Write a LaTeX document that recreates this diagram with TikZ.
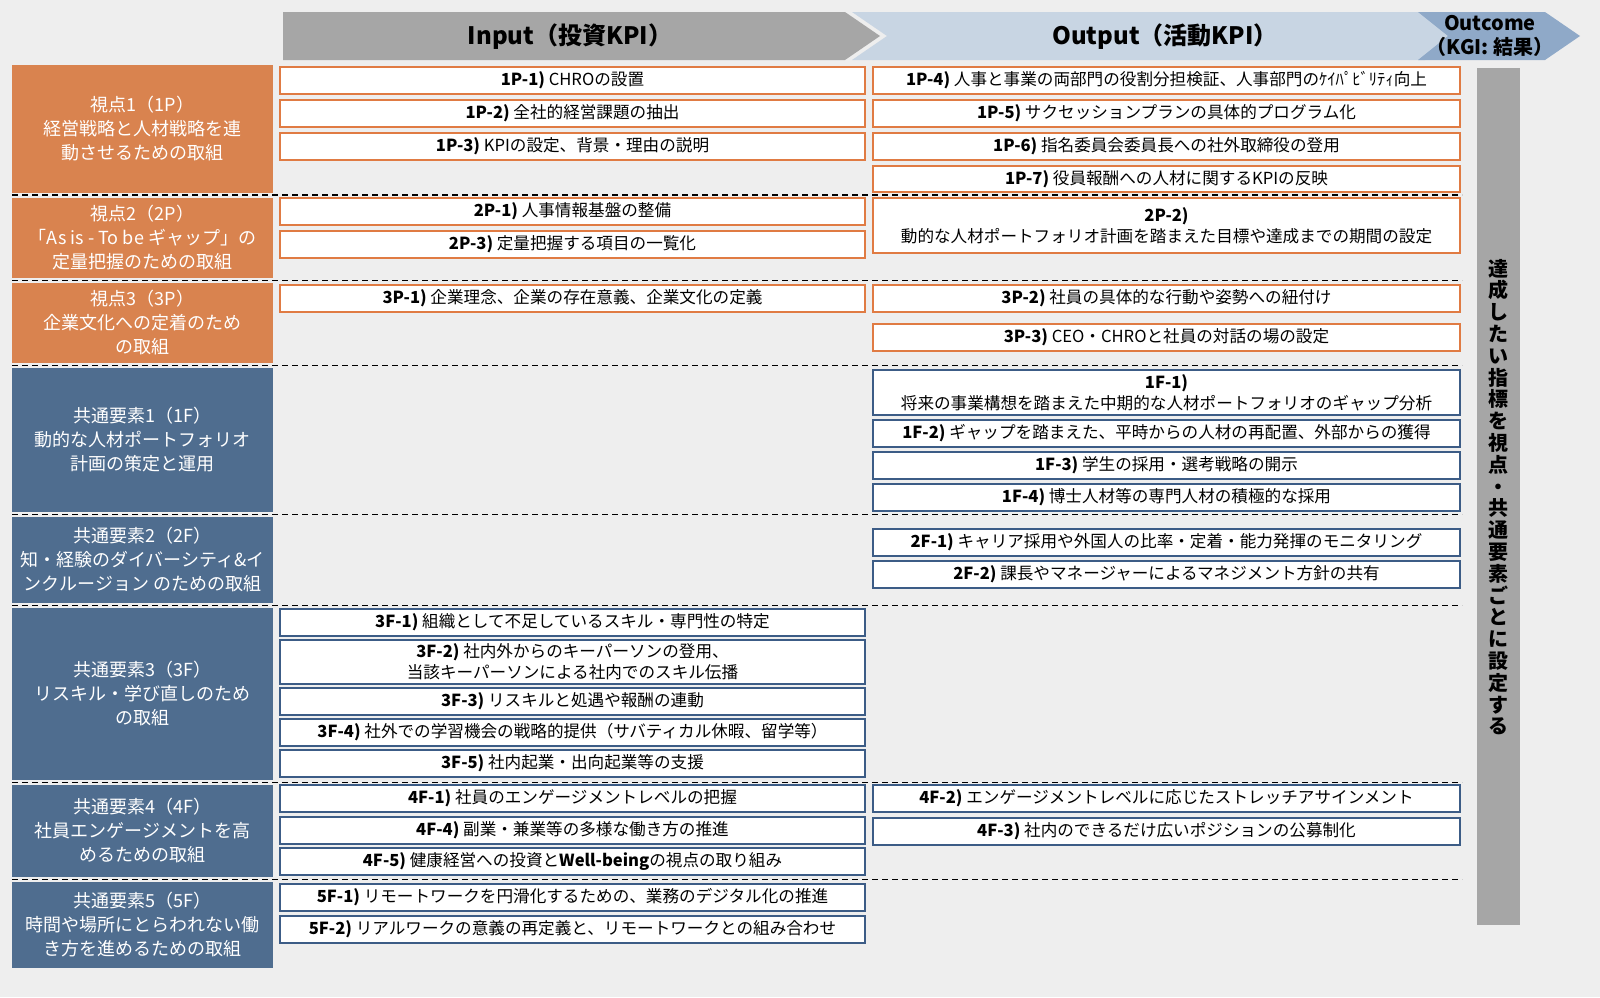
\documentclass[tikz,border=0pt]{standalone}
\usepackage{fontspec}
\setmainfont{Noto Sans CJK JP}
\definecolor{bg}{HTML}{EEEEEE}
\definecolor{org}{HTML}{D9834F}
\definecolor{orgl}{HTML}{E07B43}
\definecolor{blu}{HTML}{4F6D8F}
\definecolor{blul}{HTML}{3C5C86}
\definecolor{inarr}{HTML}{A6A6A6}
\definecolor{outarr}{HTML}{C8D5E3}
\definecolor{ocarr}{HTML}{8FA9C8}
\definecolor{gbar}{HTML}{A6A6A6}
\tikzset{
 bx/.style={fill=white,line width=1pt,inner sep=0pt,align=center,font=\fontsize{8.3}{10.5}\selectfont},
 lbx/.style={inner sep=0pt,align=center,text=white,font=\fontsize{9}{12}\selectfont},
 sep/.style={dashed,line width=0.9pt,dash pattern=on 3pt off 2pt},
 hdr/.style={font=\fontsize{12}{14}\selectfont\bfseries}
}
\newcommand\bx[7]{\node[bx,draw=#6,minimum width={(#4-#2)*0.5pt},minimum height={(#5-#3)*0.5pt}] (#1) at ({(#2+#4)/2},{(#3+#5)/2}) {#7};}
\newcommand\lb[6]{\node[lbx,fill=#6,minimum width={(273-12)*0.5pt},minimum height={(#3-#2)*0.5pt}] (#1) at (142.5,{(#2+#3)/2}) {#4\\#5};}
\begin{document}
\begin{tikzpicture}[x=0.5pt,y=-0.5pt]
\fill[bg] (0,0) rectangle (1600,997);
\useasboundingbox (0,0) rectangle (1600,997);
% headers
\fill[inarr] (283,12) -- (845,12) -- (880,36) -- (845,60) -- (283,60) -- cycle;
\fill[outarr] (852,12) -- (1425,12) -- (1460,36) -- (1425,60) -- (852,60) -- (887,36) -- cycle;
\fill[ocarr] (1418,12) -- (1545,12) -- (1580,36) -- (1545,60) -- (1418,60) -- (1448,36) -- cycle;
\node[hdr] (hin) at (570,37) {Input（投資KPI）};
\node[hdr] (hout) at (1165,37) {Output（活動KPI）};
\node[font=\fontsize{10}{12}\selectfont\bfseries,align=center] (hoc) at (1490,36) {Outcome\\（KGI: 結果）};
% right bar
\fill[gbar] (1477,68) rectangle (1520,925);
\node[align=center,font=\fontsize{10}{10.9}\selectfont\bfseries,inner sep=0pt] (vt) at (1498,497) {達\\成\\し\\た\\い\\指\\標\\を\\視\\点\\・\\共\\通\\要\\素\\ご\\と\\に\\設\\定\\す\\る};
% left boxes
\lb{l1}{65}{193}{視点1（1P）}{経営戦略と人材戦略を連\\動させるための取組}{org}
\lb{l2}{198}{278}{視点2（2P）}{「As is - To be ギャップ」の\\定量把握のための取組}{org}
\lb{l3}{283}{363}{視点3（3P）}{企業文化への定着のため\\の取組}{org}
\lb{l4}{368}{512}{共通要素1（1F）}{動的な人材ポートフォリオ\\計画の策定と運用}{blu}
\lb{l5}{517}{603}{共通要素2（2F）}{知・経験のダイバーシティ\&イ\\ンクルージョン のための取組}{blu}
\lb{l6}{608}{780}{共通要素3（3F）}{リスキル・学び直しのため\\の取組}{blu}
\lb{l7}{785}{877}{共通要素4（4F）}{社員エンゲージメントを高\\めるための取組}{blu}
\lb{l8}{882}{968}{共通要素5（5F）}{時間や場所にとらわれない働\\き方を進めるための取組}{blu}
% row 1
\bx{a1}{280}{67}{865}{94}{orgl}{\textbf{1P-1)} CHROの設置}
\bx{a2}{280}{100}{865}{127}{orgl}{\textbf{1P-2)} 全社的経営課題の抽出}
\bx{a3}{280}{133}{865}{160}{orgl}{\textbf{1P-3)} KPIの設定、背景・理由の説明}
\bx{b1}{873}{67}{1460}{94}{orgl}{\textbf{1P-4)} 人事と事業の両部門の役割分担検証、人事部門のｹｲﾊﾟﾋﾞﾘﾃｨ向上}
\bx{b2}{873}{100}{1460}{127}{orgl}{\textbf{1P-5)} サクセッションプランの具体的プログラム化}
\bx{b3}{873}{133}{1460}{160}{orgl}{\textbf{1P-6)} 指名委員会委員長への社外取締役の登用}
\bx{b4}{873}{166}{1460}{192}{orgl}{\textbf{1P-7)} 役員報酬への人材に関するKPIの反映}
% row 2
\bx{a4}{280}{198}{865}{225}{orgl}{\textbf{2P-1)} 人事情報基盤の整備}
\bx{a5}{280}{231}{865}{258}{orgl}{\textbf{2P-3)} 定量把握する項目の一覧化}
\bx{b5}{873}{198}{1460}{253}{orgl}{\textbf{2P-2)}\\動的な人材ポートフォリオ計画を踏まえた目標や達成までの期間の設定}
% row 3
\bx{a6}{280}{285}{865}{312}{orgl}{\textbf{3P-1)} 企業理念、企業の存在意義、企業文化の定義}
\bx{b6}{873}{285}{1460}{312}{orgl}{\textbf{3P-2)} 社員の具体的な行動や姿勢への紐付け}
\bx{b7}{873}{324}{1460}{351}{orgl}{\textbf{3P-3)} CEO・CHROと社員の対話の場の設定}
% row 4
\bx{b8}{873}{370}{1460}{415}{blul}{\textbf{1F-1)}\\将来の事業構想を踏まえた中期的な人材ポートフォリオのギャップ分析}
\bx{b9}{873}{420}{1460}{447}{blul}{\textbf{1F-2)} ギャップを踏まえた、平時からの人材の再配置、外部からの獲得}
\bx{b10}{873}{452}{1460}{479}{blul}{\textbf{1F-3)} 学生の採用・選考戦略の開示}
\bx{b11}{873}{484}{1460}{511}{blul}{\textbf{1F-4)} 博士人材等の専門人材の積極的な採用}
% row 5
\bx{b12}{873}{529}{1460}{556}{blul}{\textbf{2F-1)} キャリア採用や外国人の比率・定着・能力発揮のモニタリング}
\bx{b13}{873}{561}{1460}{588}{blul}{\textbf{2F-2)} 課長やマネージャーによるマネジメント方針の共有}
% row 6
\bx{a7}{280}{609}{865}{636}{blul}{\textbf{3F-1)} 組織として不足しているスキル・専門性の特定}
\bx{a8}{280}{640}{865}{684}{blul}{\textbf{3F-2)} 社内外からのキーパーソンの登用、\\当該キーパーソンによる社内でのスキル伝播}
\bx{a9}{280}{688}{865}{715}{blul}{\textbf{3F-3)} リスキルと処遇や報酬の連動}
\bx{a10}{280}{719}{865}{746}{blul}{\textbf{3F-4)} 社外での学習機会の戦略的提供（サバティカル休暇、留学等）}
\bx{a11}{280}{750}{865}{777}{blul}{\textbf{3F-5)} 社内起業・出向起業等の支援}
% row 7
\bx{a12}{280}{785}{865}{812}{blul}{\textbf{4F-1)} 社員のエンゲージメントレベルの把握}
\bx{a13}{280}{817}{865}{844}{blul}{\textbf{4F-4)} 副業・兼業等の多様な働き方の推進}
\bx{a14}{280}{848}{865}{875}{blul}{\textbf{4F-5)} 健康経営への投資と\textbf{Well-being}の視点の取り組み}
\bx{b14}{873}{785}{1460}{812}{blul}{\textbf{4F-2)} エンゲージメントレベルに応じたストレッチアサインメント}
\bx{b15}{873}{818}{1460}{845}{blul}{\textbf{4F-3)} 社内のできるだけ広いポジションの公募制化}
% row 8
\bx{a15}{280}{884}{865}{911}{blul}{\textbf{5F-1)} リモートワークを円滑化するための、業務のデジタル化の推進}
\bx{a16}{280}{916}{865}{943}{blul}{\textbf{5F-2)} リアルワークの意義の再定義と、リモートワークとの組み合わせ}
% separators
\foreach \y in {195,280.5,365.5,514.5,605.5,782.5,879.5}
  \draw[sep] (12,\y) -- (1462,\y);
\end{tikzpicture}
\end{document}
